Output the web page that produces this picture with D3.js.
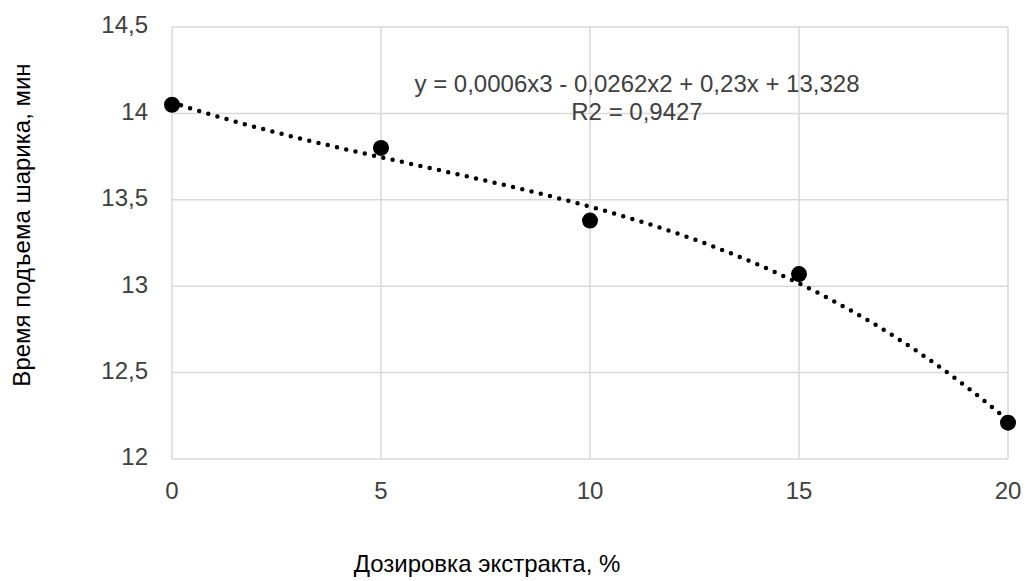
<!DOCTYPE html>
<html>
<head>
<meta charset="utf-8">
<script src="https://cdn.jsdelivr.net/npm/d3@7"></script>
<style>
  html, body { margin: 0; padding: 0; background: #fff; }
  svg { display: block; font-family: "Liberation Sans", Arial, sans-serif; }
</style>
</head>
<body>
<svg id="chart" width="1027" height="581"></svg>
<script>
// Dosage of extract (%) and ball rise time (min)
const dosage = [0, 5, 10, 15, 20];
const riseTime = [14.05, 13.80, 13.38, 13.07, 12.21];
const xTicks = [0, 5, 10, 15, 20];
const yTicks = [12, 12.5, 13, 13.5, 14, 14.5];
const equationLines = ["y = 0,0006x3 - 0,0262x2 + 0,23x + 13,328", "R2 = 0,9427"];
const xTitle = "Дозировка экстракта, %";
const yTitle = "Время подъема шарика, мин";

const svg = d3.select("#chart");
const plot = { left: 172, right: 1008, top: 27, bottom: 459 };

const x = d3.scaleLinear().domain([0, 20]).range([plot.left, plot.right]);
const y = d3.scaleLinear().domain([12, 14.5]).range([plot.bottom, plot.top]);

const fmt = v => String(v).replace(".", ",");

// Gridlines
svg.append("g").selectAll("line").data(yTicks).join("line")
  .attr("x1", plot.left).attr("x2", plot.right)
  .attr("y1", d => y(d)).attr("y2", d => y(d))
  .attr("stroke", "#d9d9d9").attr("stroke-width", 1.5);
svg.append("g").selectAll("line").data(xTicks).join("line")
  .attr("y1", plot.top).attr("y2", plot.bottom)
  .attr("x1", d => x(d)).attr("x2", d => x(d))
  .attr("stroke", "#d9d9d9").attr("stroke-width", 1.5);

// Tick labels
svg.append("g").selectAll("text").data(yTicks).join("text")
  .attr("x", 148).attr("y", d => y(d))
  .attr("text-anchor", "end").attr("dominant-baseline", "middle")
  .attr("font-size", 24).attr("fill", "#404040")
  .text(fmt);
svg.append("g").selectAll("text").data(xTicks).join("text")
  .attr("x", d => x(d)).attr("y", 499)
  .attr("text-anchor", "middle")
  .attr("font-size", 24).attr("fill", "#404040")
  .text(fmt);

// Cubic least-squares trendline through the measured points
function polyFit(xs, ys, deg) {
  const n = deg + 1;
  const A = Array.from({ length: n }, () => new Array(n + 1).fill(0));
  for (let i = 0; i < xs.length; i++) {
    for (let r = 0; r < n; r++) {
      for (let c = 0; c < n; c++) A[r][c] += Math.pow(xs[i], r + c);
      A[r][n] += ys[i] * Math.pow(xs[i], r);
    }
  }
  for (let p = 0; p < n; p++) {
    let m = p;
    for (let r = p + 1; r < n; r++) if (Math.abs(A[r][p]) > Math.abs(A[m][p])) m = r;
    [A[p], A[m]] = [A[m], A[p]];
    for (let r = 0; r < n; r++) {
      if (r === p) continue;
      const f = A[r][p] / A[p][p];
      for (let c = p; c <= n; c++) A[r][c] -= f * A[p][c];
    }
  }
  return A.map((row, i) => row[n] / row[i]);
}
const coef = polyFit(dosage, riseTime, 3);
const trend = d3.range(0, 20.001, 0.1).map(t => [t, coef.reduce((s, c, i) => s + c * Math.pow(t, i), 0)]);

svg.append("path")
  .datum(trend)
  .attr("d", d3.line().x(d => x(d[0])).y(d => y(d[1])))
  .attr("fill", "none").attr("stroke", "#000")
  .attr("stroke-width", 4.5).attr("stroke-linecap", "round")
  .attr("stroke-dasharray", "0 9.5");

// Data markers
svg.append("g").selectAll("circle").data(dosage).join("circle")
  .attr("cx", d => x(d)).attr("cy", (d, i) => y(riseTime[i]))
  .attr("r", 8).attr("fill", "#000");

// Trendline equation
svg.append("g").selectAll("text").data(equationLines).join("text")
  .attr("x", 637).attr("y", (d, i) => 92 + i * 28)
  .attr("text-anchor", "middle")
  .attr("font-size", 24).attr("fill", "#404040")
  .text(d => d);

// Axis titles
svg.append("text")
  .attr("x", 487).attr("y", 572)
  .attr("text-anchor", "middle")
  .attr("font-size", 24).attr("fill", "#000")
  .text(xTitle);
svg.append("text")
  .attr("transform", "translate(30,225) rotate(-90)")
  .attr("text-anchor", "middle")
  .attr("font-size", 24).attr("fill", "#000")
  .text(yTitle);
</script>
</body>
</html>
